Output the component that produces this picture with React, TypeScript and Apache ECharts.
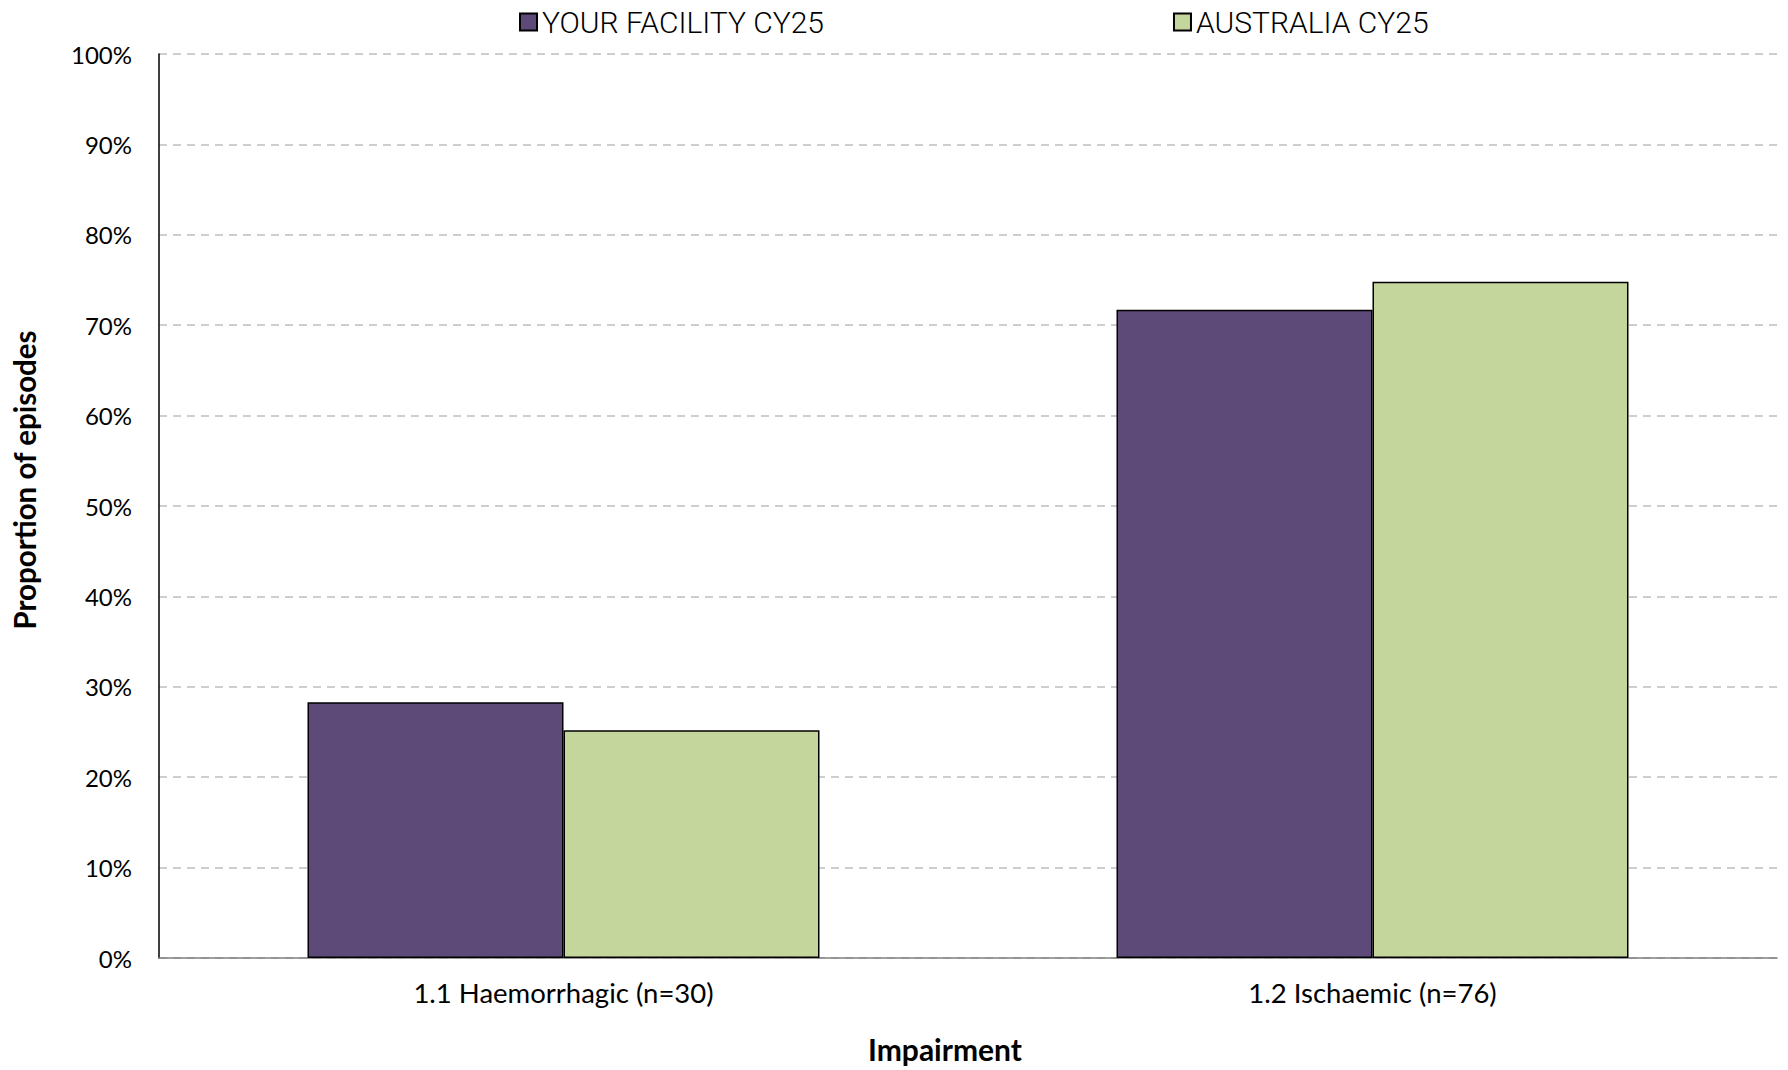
import React, { useEffect, useRef } from "react";
import * as echarts from "echarts";

const categories = ["1.1 Haemorrhagic (n=30)", "1.2 Ischaemic (n=76)"];
const facilityValues = [28.3, 71.7];
const australiaValues = [25.2, 74.8];
const seriesNames = ["YOUR FACILITY CY25", "AUSTRALIA CY25"];
const yAxisTitle = "Proportion of episodes";
const xAxisTitle = "Impairment";

export default function App() {
  const ref = useRef<HTMLDivElement>(null);
  useEffect(() => {
    if (!ref.current) return;
    const chart = echarts.init(ref.current, undefined, { renderer: "svg" });
    const font = "Lato, 'Noto Sans', sans-serif";
    chart.setOption({
      animation: false,
      backgroundColor: "#ffffff",
      textStyle: { fontFamily: font },
      legend: {
        top: 2,
        left: 514,
        itemWidth: 17,
        itemHeight: 17,
        itemGap: 349,
        icon: "rect",
        textStyle: { fontSize: 30, fontWeight: 300, color: "#000", fontFamily: "Roboto, sans-serif", padding: [0, 0, 0, 0] },
        data: seriesNames,
      },
      grid: { left: 159, right: 11, top: 54, bottom: 112 },
      xAxis: {
        type: "category",
        data: categories,
        name: xAxisTitle,
        nameLocation: "middle",
        nameGap: 76,
        nameTextStyle: { fontSize: 30, fontWeight: "bold", color: "#000", fontFamily: font, padding: [0, 46, 0, 0] },
        axisLine: { show: true, lineStyle: { color: "#808080", width: 1.5 } },
        axisTick: { show: false },
        axisLabel: { fontSize: 27.5, color: "#000", margin: 20, fontFamily: font },
      },
      yAxis: {
        type: "value",
        min: 0,
        max: 100,
        interval: 10,
        name: yAxisTitle,
        nameLocation: "middle",
        nameGap: 120,
        nameRotate: 90,
        nameTextStyle: { fontSize: 29.5, fontWeight: "bold", color: "#000", fontFamily: font, padding: [0, 0, 0, 52] },
        axisLine: { show: true, lineStyle: { color: "#000", width: 1.5 } },
        axisTick: { show: false },
        axisLabel: { formatter: "{value}%", fontSize: 24, color: "#000", margin: 27, fontFamily: font },
        splitLine: { show: true, lineStyle: { color: "#BFBFBF", width: 1.5, type: [8, 6] } },
      },
      series: [
        {
          name: seriesNames[0],
          type: "bar",
          data: facilityValues,
          barWidth: 256,
          barGap: "0%",
          itemStyle: { color: "#5E4A78", borderColor: "#000", borderWidth: 1.5 },
        },
        {
          name: seriesNames[1],
          type: "bar",
          data: australiaValues,
          barWidth: 256,
          barGap: "0%",
          itemStyle: { color: "#C4D69C", borderColor: "#000", borderWidth: 1.5 },
        },
      ],
    });
    return () => chart.dispose();
  }, []);
  return (
    <div
      ref={ref}
      style={{ position: "fixed", left: 0, top: 0, width: 1788, height: 1070 }}
    />
  );
}
